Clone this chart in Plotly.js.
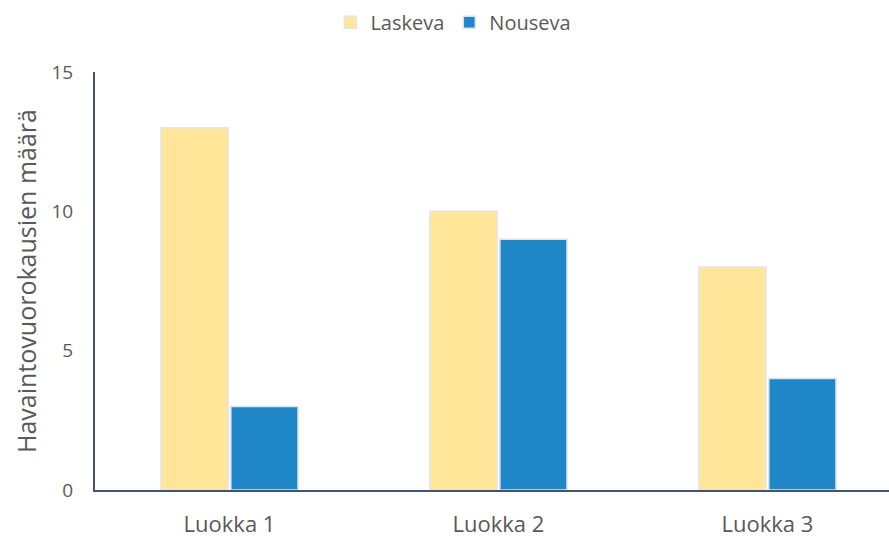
<!DOCTYPE html>
<html>
<head>
<meta charset="utf-8">
<script src="https://cdn.plot.ly/plotly-3.0.1.min.js"></script>
<style>html,body{margin:0;padding:0;background:#fff;}#chart{width:889px;height:540px;}</style>
</head>
<body>
<div id="chart"></div>
<script>
const categories = ["Luokka 1", "Luokka 2", "Luokka 3"];
const laskeva = [13, 10, 8];
const nouseva = [3, 9, 4];
const yTicks = [0, 5, 10, 15];

const font = "'Open Sans', 'Noto Sans', sans-serif";
const traces = [
  {type: "bar", name: "Laskeva", x: categories, y: laskeva,
   marker: {color: "#FFE699", line: {color: "#E4E4E4", width: 1.5}}},
  {type: "bar", name: "Nouseva", x: categories, y: nouseva,
   marker: {color: "#1F87C8", line: {color: "#DDE3EA", width: 1.5}}}
];
const layout = {
  width: 889, height: 540,
  margin: {l: 95, r: 0, t: 72, b: 50},
  paper_bgcolor: "#fff", plot_bgcolor: "#fff",
  barmode: "group", bargap: 0.48, bargroupgap: 0.04,
  font: {family: font, color: "#595959", size: 18},
  showlegend: true,
  legend: {orientation: "h", x: 0.51, xref: "container", xanchor: "center", y: 0.995, yref: "container", yanchor: "top",
           font: {size: 20, color: "#595959"}, itemwidth: 30, traceorder: "normal"},
  xaxis: {type: "category", range: [-0.5, 2.452], showline: true, linecolor: "#44546A", linewidth: 2,
          ticks: "", showgrid: false, zeroline: false, ticklabelstandoff: 14,
          tickfont: {size: 22, color: "#595959"}},
  yaxis: {range: [0, 15], tickvals: yTicks, ticktext: yTicks.map(String), showline: true,
          linecolor: "#44546A", linewidth: 2, ticks: "", showgrid: false, zeroline: false,
          ticklabelstandoff: 16,
          tickfont: {size: 19, color: "#595959"},
          title: {text: "Havaintovuorokausien määrä", font: {size: 25, color: "#595959"}, standoff: 8}}
};
Plotly.newPlot("chart", traces, layout, {displayModeBar: false, staticPlot: true});
</script>
</body>
</html>
